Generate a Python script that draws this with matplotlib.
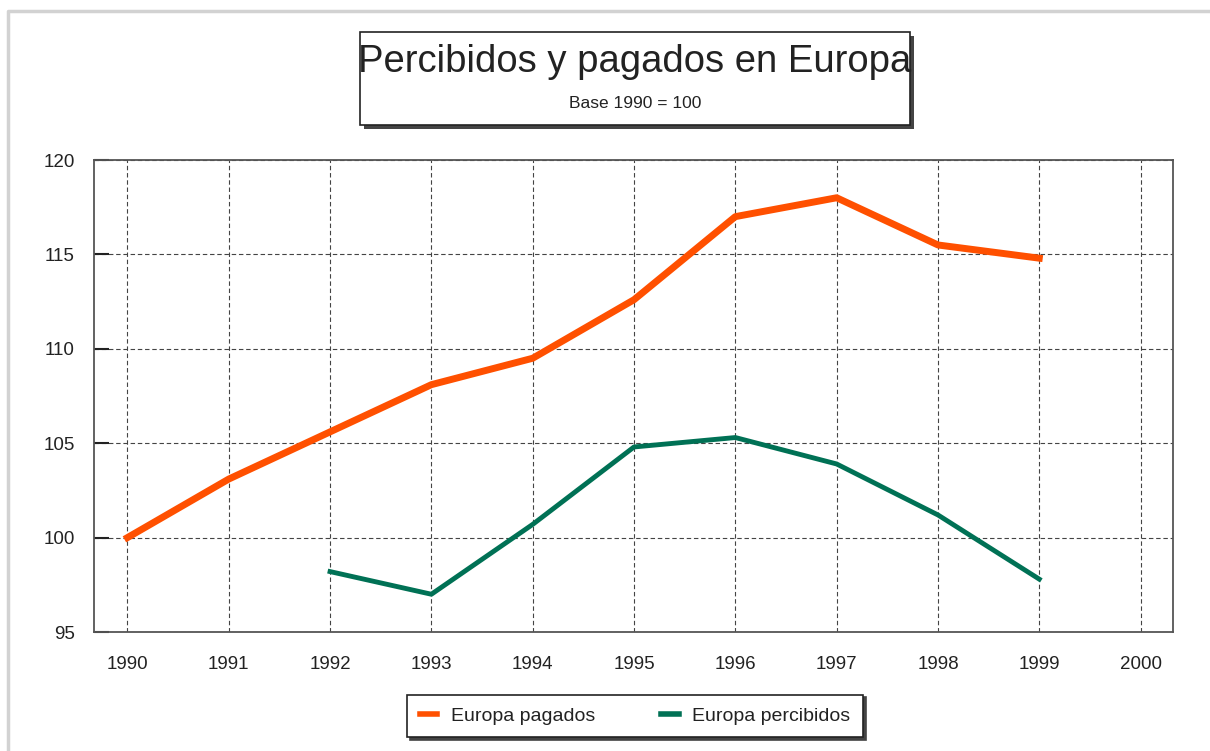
import numpy as np
import matplotlib
matplotlib.use("Agg")
import matplotlib.pyplot as plt
from matplotlib.patches import Rectangle
from matplotlib.lines import Line2D

years = [1990, 1991, 1992, 1993, 1994, 1995, 1996, 1997, 1998, 1999]
pagados = [100.0, 103.1, 105.6, 108.1, 109.5, 112.6, 117.0, 118.0, 115.5, 114.8]
percibidos = [np.nan, np.nan, 98.2, 97.0, 100.7, 104.8, 105.3, 103.9, 101.2, 97.8]
x_ticks = [1990, 1991, 1992, 1993, 1994, 1995, 1996, 1997, 1998, 1999, 2000]
y_ticks = [95, 100, 105, 110, 115, 120]

title = "Percibidos y pagados en Europa"
subtitle = "Base 1990 = 100"
label_pag = "Europa pagados"
label_per = "Europa percibidos"

plt.rcParams['font.family'] = ['Liberation Sans', 'DejaVu Sans']

fig = plt.figure(figsize=(12.10, 7.51), dpi=100)
ax = fig.add_axes([94/1210, 1-632/751, (1173-94)/1210, (632-160)/751])

c_pag = '#FF5000'
c_per = '#007155'
l1, = ax.plot(years, pagados, color=c_pag, lw=5, solid_joinstyle='round', label=label_pag, zorder=3)
l2, = ax.plot(years, percibidos, color=c_per, lw=3.5, solid_joinstyle='round', label=label_per, zorder=3)

ax.set_xlim(1989.67, 2000.32)
ax.set_ylim(95, 120)
ax.set_xticks(x_ticks)
ax.set_xticklabels([str(v) for v in x_ticks])
ax.set_yticks(y_ticks)
ax.set_yticklabels([str(v) for v in y_ticks])
ax.grid(True, color='#444444', linestyle=(0, (4, 2.5)), linewidth=0.8, zorder=1)
ax.tick_params(axis='x', length=0, pad=17, labelsize=13.5, labelcolor='#222222')
ax.tick_params(axis='y', direction='in', length=11, width=1.5, color='#222222', pad=14,
               labelsize=13.5, labelcolor='#222222')
for s in ax.spines.values():
    s.set_color('#555555')
    s.set_linewidth(1.3)

# outer light border
fig.add_artist(Line2D([8/1210, 8/1210, 1.0], [0.0, 1-11/751, 1-11/751],
                      transform=fig.transFigure, color='#d2d2d2', lw=2.5))

# title box with shadow
bx0, by0 = 360/1210, 1-125/751
bw, bh = 550/1210, 93/751
fig.add_artist(Rectangle((bx0 + 4/1210, by0 - 4/751), bw, bh, transform=fig.transFigure,
                         facecolor='#444444', edgecolor='none', zorder=1))
fig.add_artist(Rectangle((bx0, by0), bw, bh, transform=fig.transFigure,
                         facecolor='white', edgecolor='#222222', lw=1.2, zorder=2))
fig.text(bx0 + bw/2, 1-62/751, title, ha='center', va='center', fontsize=27.5,
         color='#222222', zorder=3)
fig.text(bx0 + bw/2, 1-104/751, subtitle, ha='center', va='center', fontsize=12.5,
         color='#222222', zorder=3)

leg = fig.legend(handles=[l1, l2], loc='center', bbox_to_anchor=(635/1210, 1-716/751),
                 ncol=2, frameon=True, fancybox=False, shadow={'color': '#444444', 'alpha': 1},
                 edgecolor='#222222', fontsize=14, handlelength=0.9, handletextpad=0.7,
                 columnspacing=3.4, borderpad=0.65)
leg.get_frame().set_linewidth(1.2)
for t in leg.get_texts():
    t.set_color('#222222')
for h in leg.legend_handles:
    h.set_linewidth(4)

fig.savefig('out.png', dpi=100)
